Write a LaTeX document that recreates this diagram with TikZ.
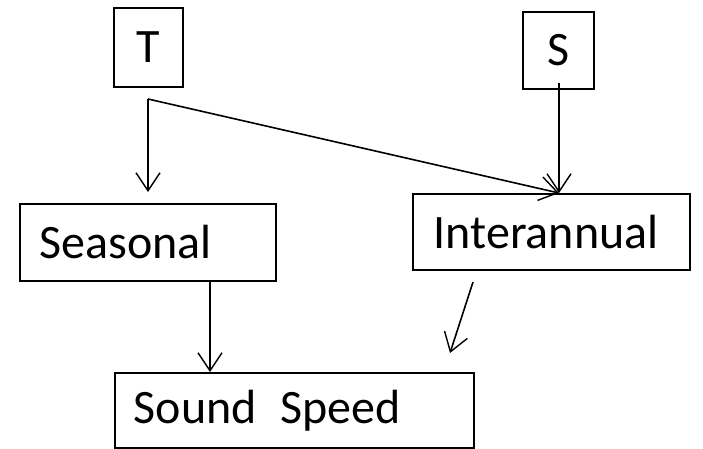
\documentclass[tikz,border=0pt]{standalone}
\usepackage{fontspec}
\setmainfont{Carlito}
\usetikzlibrary{arrows.meta}
\begin{document}
\begin{tikzpicture}[x=1pt,y=-1pt,
  box/.style={draw=black,line width=1.6pt,inner ysep=0pt,font=\fontsize{48}{52}\selectfont,align=left},
  conn/.style={draw=black,line width=1.6pt,-{Straight Barb[length=18pt,width=24pt,line width=1.4pt]}}]
\useasboundingbox (0,0) rectangle (703,448);
\node[box,minimum width=69pt,minimum height=79pt,inner xsep=0pt,align=center] (T) at (148.5,47.5) {T};
\node[box,minimum width=71pt,minimum height=77pt,inner xsep=0pt,align=center] (S) at (558.5,50.5) {S};
\node[box,anchor=north west,inner xsep=20pt,text width=216pt,minimum height=77pt] (seas) at (19,203) {Seasonal};
\node[box,anchor=north west,inner xsep=21pt,text width=235pt,minimum height=76pt] (inter) at (412,193) {Interannual};
\node[box,anchor=north west,inner xsep=19pt,text width=321pt,minimum height=75pt] (sound) at (114,372) {Sound\hspace{0.5em}Speed};
\coordinate (j) at (148,99);
\coordinate (jend) at (148,192);
\coordinate (sstart) at (559,83);
\coordinate (itop) at (559,193);
\coordinate (ia) at (473,282);
\coordinate (ib) at (450,353);
\draw[conn] (j) -- (jend);
\draw[conn] (j) -- (itop);
\draw[conn] (sstart) -- (itop);
\draw[conn] (seas.south -| 210,0) -- (sound.north -| 210,0);
\draw[conn] (ia) -- (ib);
\end{tikzpicture}
\end{document}
